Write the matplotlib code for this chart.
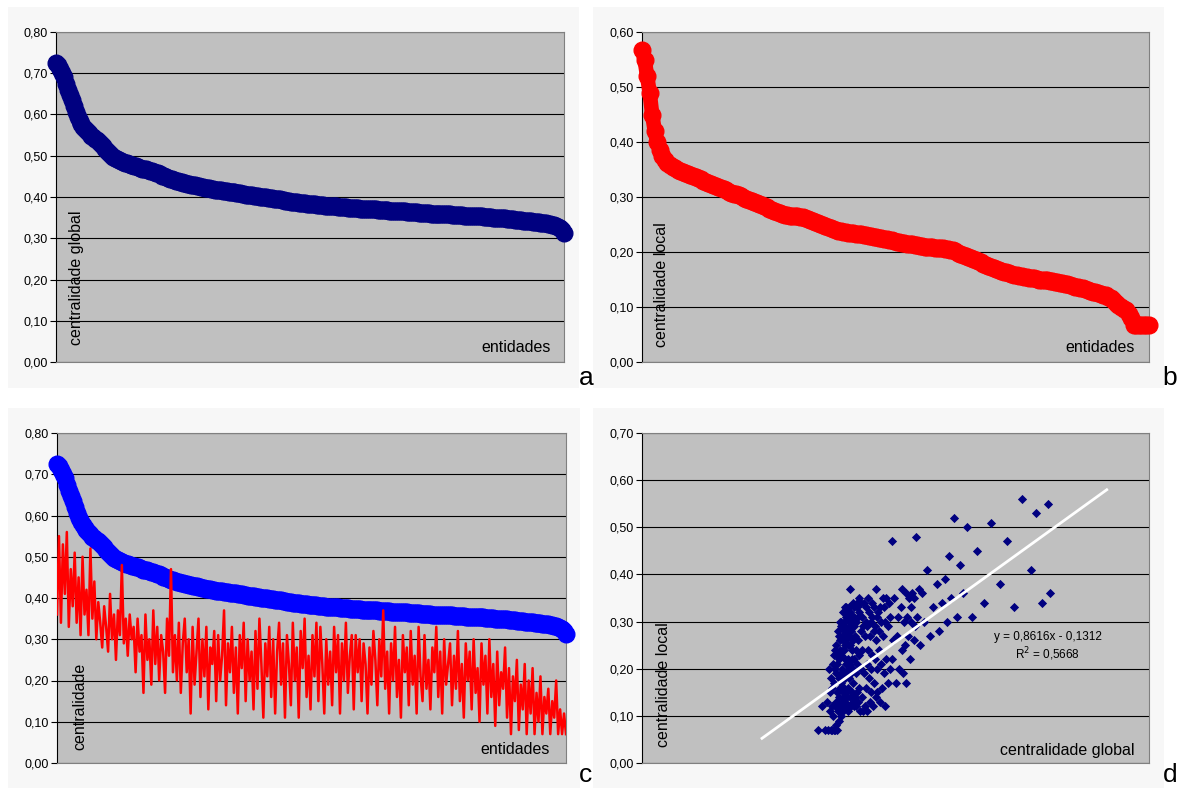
import matplotlib.pyplot as plt
from matplotlib.patches import Rectangle
from matplotlib.ticker import FuncFormatter, MultipleLocator
import numpy as np

plt.rcParams['font.family'] = ['Liberation Sans', 'DejaVu Sans']

# centralidade global, sorted (panels a, c, d x-values)
global_c = [
    0.725, 0.72, 0.71, 0.70, 0.69, 0.675, 0.66, 0.648, 0.635, 0.62,
    0.607, 0.595, 0.585, 0.577, 0.57, 0.564, 0.559, 0.554, 0.549, 0.545,
    0.541, 0.537, 0.533, 0.528, 0.523, 0.517, 0.512, 0.506, 0.501, 0.497,
    0.494, 0.491, 0.489, 0.487, 0.485, 0.483, 0.482, 0.480, 0.478, 0.477,
    0.475, 0.474, 0.472, 0.471, 0.469, 0.468, 0.467, 0.465, 0.464, 0.462,
    0.461, 0.459, 0.457, 0.455, 0.452, 0.45, 0.448, 0.446, 0.444, 0.443,
    0.441, 0.44, 0.438, 0.437, 0.436, 0.434, 0.433, 0.432, 0.431, 0.43,
    0.429, 0.428, 0.427, 0.426, 0.425, 0.424, 0.423, 0.422, 0.421, 0.42,
    0.419, 0.418, 0.418, 0.417, 0.416, 0.415, 0.415, 0.414, 0.413, 0.412,
    0.412, 0.411, 0.41, 0.409, 0.409, 0.408, 0.407, 0.406, 0.406, 0.405,
    0.404, 0.403, 0.403, 0.402, 0.401, 0.4, 0.4, 0.399, 0.398, 0.397,
    0.397, 0.396, 0.395, 0.394, 0.394, 0.393, 0.392, 0.391, 0.391, 0.39,
    0.389, 0.388, 0.388, 0.387, 0.386, 0.386, 0.385, 0.385, 0.384, 0.383,
    0.383, 0.382, 0.382, 0.381, 0.381, 0.38, 0.38, 0.379, 0.379, 0.378,
    0.378, 0.377, 0.377, 0.377, 0.376, 0.376, 0.375, 0.375, 0.375, 0.374,
    0.374, 0.374, 0.373, 0.373, 0.373, 0.372, 0.372, 0.372, 0.371, 0.371,
    0.371, 0.37, 0.37, 0.37, 0.369, 0.369, 0.369, 0.368, 0.368, 0.368,
    0.367, 0.367, 0.367, 0.366, 0.366, 0.366, 0.365, 0.365, 0.365, 0.364,
    0.364, 0.364, 0.363, 0.363, 0.363, 0.362, 0.362, 0.362, 0.361, 0.361,
    0.361, 0.36, 0.36, 0.36, 0.359, 0.359, 0.359, 0.358, 0.358, 0.358,
    0.358, 0.358, 0.357, 0.357, 0.357, 0.356, 0.356, 0.356, 0.355, 0.355,
    0.355, 0.355, 0.354, 0.354, 0.354, 0.353, 0.353, 0.353, 0.352, 0.352,
    0.352, 0.351, 0.351, 0.35, 0.35, 0.35, 0.349, 0.349, 0.348, 0.348,
    0.347, 0.347, 0.346, 0.346, 0.345, 0.345, 0.344, 0.344, 0.343, 0.343,
    0.342, 0.342, 0.341, 0.34, 0.34, 0.339, 0.339, 0.338, 0.337, 0.337,
    0.336, 0.335, 0.334, 0.333, 0.332, 0.33, 0.328, 0.325, 0.32, 0.313,
]

# centralidade local in the same entity order (panel c red, panel d y-values)
local_c = [
    0.36, 0.55, 0.34, 0.53, 0.41, 0.56, 0.33, 0.47, 0.38, 0.51,
    0.34, 0.45, 0.31, 0.50, 0.36, 0.42, 0.31, 0.52, 0.35, 0.44,
    0.30, 0.39, 0.34, 0.28, 0.38, 0.33, 0.27, 0.41, 0.30, 0.36,
    0.25, 0.37, 0.31, 0.48, 0.29, 0.35, 0.26, 0.36, 0.30, 0.33,
    0.22, 0.35, 0.27, 0.31, 0.17, 0.36, 0.25, 0.30, 0.19, 0.37,
    0.24, 0.33, 0.20, 0.31, 0.27, 0.17, 0.35, 0.26, 0.47, 0.22,
    0.31, 0.20, 0.34, 0.17, 0.29, 0.35, 0.22, 0.30, 0.12, 0.33,
    0.19, 0.27, 0.35, 0.16, 0.30, 0.21, 0.33, 0.13, 0.28, 0.24,
    0.32, 0.15, 0.31, 0.20, 0.26, 0.37, 0.14, 0.29, 0.22, 0.33,
    0.17, 0.28, 0.12, 0.31, 0.23, 0.34, 0.15, 0.30, 0.20, 0.27,
    0.13, 0.32, 0.18, 0.35, 0.24, 0.11, 0.29, 0.21, 0.33, 0.16,
    0.30, 0.12, 0.27, 0.34, 0.19, 0.29, 0.11, 0.31, 0.24, 0.14,
    0.34, 0.20, 0.28, 0.11, 0.32, 0.23, 0.35, 0.16, 0.26, 0.13,
    0.31, 0.21, 0.34, 0.15, 0.33, 0.24, 0.12, 0.30, 0.19, 0.27,
    0.14, 0.33, 0.22, 0.31, 0.12, 0.29, 0.20, 0.34, 0.17, 0.26,
    0.31, 0.13, 0.31, 0.22, 0.30, 0.15, 0.29, 0.24, 0.12, 0.28,
    0.19, 0.32, 0.25, 0.14, 0.30, 0.21, 0.37, 0.18, 0.27, 0.12,
    0.29, 0.20, 0.33, 0.16, 0.25, 0.11, 0.31, 0.22, 0.28, 0.14,
    0.32, 0.19, 0.26, 0.12, 0.33, 0.21, 0.15, 0.31, 0.18, 0.25,
    0.13, 0.28, 0.22, 0.33, 0.16, 0.27, 0.12, 0.30, 0.19, 0.24,
    0.29, 0.14, 0.26, 0.18, 0.32, 0.15, 0.24, 0.11, 0.29, 0.20,
    0.27, 0.13, 0.30, 0.17, 0.23, 0.10, 0.29, 0.19, 0.26, 0.12,
    0.30, 0.16, 0.24, 0.09, 0.27, 0.14, 0.22, 0.18, 0.28, 0.11,
    0.23, 0.07, 0.21, 0.15, 0.25, 0.08, 0.19, 0.13, 0.24, 0.07,
    0.20, 0.12, 0.23, 0.07, 0.17, 0.10, 0.21, 0.07, 0.16, 0.12,
    0.18, 0.07, 0.15, 0.11, 0.20, 0.07, 0.13, 0.07, 0.12, 0.07,
]

# centralidade local, sorted (panel b)
local_sorted = [
    0.567, 0.55, 0.52, 0.49, 0.45, 0.42, 0.40, 0.385, 0.375, 0.368,
    0.362, 0.358, 0.355, 0.352, 0.349, 0.347, 0.345, 0.343, 0.341, 0.340,
    0.338, 0.336, 0.334, 0.332, 0.330, 0.328, 0.326, 0.324, 0.322, 0.320,
    0.318, 0.316, 0.314, 0.312, 0.310, 0.308, 0.306, 0.305, 0.303, 0.301,
    0.299, 0.297, 0.295, 0.293, 0.291, 0.289, 0.287, 0.285, 0.283, 0.281,
    0.279, 0.277, 0.275, 0.273, 0.271, 0.269, 0.268, 0.267, 0.266, 0.266,
    0.265, 0.265, 0.264, 0.263, 0.262, 0.26, 0.258, 0.256, 0.254, 0.252,
    0.251, 0.249, 0.247, 0.245, 0.243, 0.242, 0.240, 0.239, 0.238, 0.237,
    0.236, 0.235, 0.234, 0.234, 0.233, 0.232, 0.232, 0.231, 0.231, 0.230,
    0.229, 0.228, 0.227, 0.226, 0.225, 0.224, 0.223, 0.222, 0.221, 0.220,
    0.219, 0.218, 0.217, 0.216, 0.215, 0.215, 0.214, 0.213, 0.212, 0.211,
    0.211, 0.210, 0.210, 0.209, 0.209, 0.208, 0.208, 0.207, 0.207, 0.206,
    0.205, 0.204, 0.203, 0.201, 0.199, 0.197, 0.195, 0.193, 0.191, 0.189,
    0.187, 0.185, 0.183, 0.181, 0.179, 0.177, 0.175, 0.173, 0.171, 0.169,
    0.168, 0.166, 0.164, 0.163, 0.161, 0.160, 0.159, 0.158, 0.157, 0.156,
    0.155, 0.154, 0.153, 0.153, 0.152, 0.151, 0.150, 0.150, 0.149, 0.149,
    0.148, 0.147, 0.146, 0.145, 0.144, 0.143, 0.142, 0.141, 0.140, 0.138,
    0.137, 0.136, 0.135, 0.134, 0.132, 0.131, 0.130, 0.128, 0.127, 0.125,
    0.124, 0.122, 0.121, 0.119, 0.116, 0.112, 0.108, 0.104, 0.100, 0.097,
    0.094, 0.088, 0.080, 0.067, 0.067, 0.067, 0.067, 0.067, 0.067, 0.067,
]

# trendline shown in panel d
slope, intercept, r2 = 0.8616, -0.1312, 0.5668

W, H = 1183, 789
fig = plt.figure(figsize=(W / 100, H / 100), dpi=100, facecolor='white')


def fx(px):
    return px / W


def fy(py):
    return 1 - py / H


# light panel backgrounds
for x0, y0, x1, y1 in [(8, 7, 579, 388), (593, 7, 1164, 388),
                       (8, 408, 580, 788), (593, 408, 1164, 788)]:
    fig.patches.append(Rectangle((fx(x0), fy(y1)), fx(x1 - x0), (y1 - y0) / H,
                                 transform=fig.transFigure, facecolor='#f7f7f7',
                                 edgecolor='none', zorder=-10))

comma = FuncFormatter(lambda v, p: f'{v:.2f}'.replace('.', ','))


def make_ax(l, r, t, b, ymax):
    ax = fig.add_axes([fx(l), fy(b), fx(r - l), (b - t) / H])
    ax.set_zorder(1)
    ax.set_facecolor('#c0c0c0')
    ax.set_ylim(0, ymax)
    ax.yaxis.set_major_locator(MultipleLocator(0.1))
    ax.yaxis.set_major_formatter(comma)
    ax.grid(axis='y', color='black', linewidth=0.8)
    ax.set_axisbelow(True)
    ax.set_xticks([])
    ax.tick_params(axis='y', labelsize=9, length=4, width=0.8, direction='out', pad=2)
    for s in ['top', 'right', 'bottom']:
        ax.spines[s].set_color('#808080')
    ax.spines['left'].set_color('black')
    return ax


idx_g = np.arange(len(global_c))
idx_l = np.arange(len(local_sorted))
lab = 11.5

# a
ax_a = make_ax(56, 564, 32, 362, 0.8)
ax_a.plot(idx_g, global_c, color='#000080', lw=10.5, marker='o', ms=12,
          solid_capstyle='round', clip_on=False, zorder=3)
ax_a.set_xlim(0, len(global_c) - 1)
fig.text(fx(77), fy(345), 'centralidade global', rotation=90, fontsize=lab,
         ha='center', va='bottom', zorder=5)
fig.text(fx(551), fy(348), 'entidades', fontsize=lab, ha='right', va='center', zorder=5)
fig.text(fx(586), fy(378), 'a', fontsize=19, ha='center', va='center')

# b
ax_b = make_ax(642, 1149, 32, 362, 0.6)
ax_b.plot(idx_l, local_sorted, color='#ff0000', lw=10.5, marker='o', ms=12,
          solid_capstyle='round', clip_on=False, zorder=3)
ax_b.set_xlim(0, len(local_sorted) - 1)
fig.text(fx(662), fy(347), 'centralidade local', rotation=90, fontsize=lab,
         ha='center', va='bottom', zorder=5)
fig.text(fx(1135), fy(348), 'entidades', fontsize=lab, ha='right', va='center', zorder=5)
fig.text(fx(1170), fy(378), 'b', fontsize=19, ha='center', va='center')

# c
ax_c = make_ax(57, 566, 433, 763, 0.8)
ax_c.plot(idx_g, global_c, color='#0000ff', lw=10.5, marker='o', ms=12,
          solid_capstyle='round', clip_on=False, zorder=3)
ax_c.plot(idx_g, local_c, color='#ff0000', lw=1.8, zorder=4)
ax_c.set_xlim(0, len(global_c) - 1)
fig.text(fx(80), fy(750), 'centralidade', rotation=90, fontsize=lab,
         ha='center', va='bottom', zorder=5)
fig.text(fx(550), fy(749), 'entidades', fontsize=lab, ha='right', va='center', zorder=5)
fig.text(fx(586), fy(775), 'c', fontsize=19, ha='center', va='center')

# d
ax_d = make_ax(642, 1149, 433, 763, 0.7)
ax_d.set_xlim(0, 0.9)
ax_d.scatter(global_c, local_c, marker='D', s=22, color='#000080',
             linewidths=0, zorder=3)
tx = np.array([min(global_c) - 0.1, max(global_c) + 0.1])
ax_d.plot(tx, slope * tx + intercept, color='white', lw=2, zorder=4)
ax_d.text(0.72, 0.267, 'y = 0,8616x - 0,1312', fontsize=8.5, ha='center', va='center')
ax_d.text(0.72, 0.231, f'R$^2$ = {r2:.4f}'.replace('.', ','), fontsize=8.5,
          ha='center', va='center')
fig.text(fx(663), fy(747), 'centralidade local', rotation=90, fontsize=lab,
         ha='center', va='bottom', zorder=5)
fig.text(fx(1135), fy(750), 'centralidade global', fontsize=lab, ha='right',
         va='center', zorder=5)
fig.text(fx(1170), fy(775), 'd', fontsize=19, ha='center', va='center')

plt.savefig('out.png', dpi=100)
plt.close()
